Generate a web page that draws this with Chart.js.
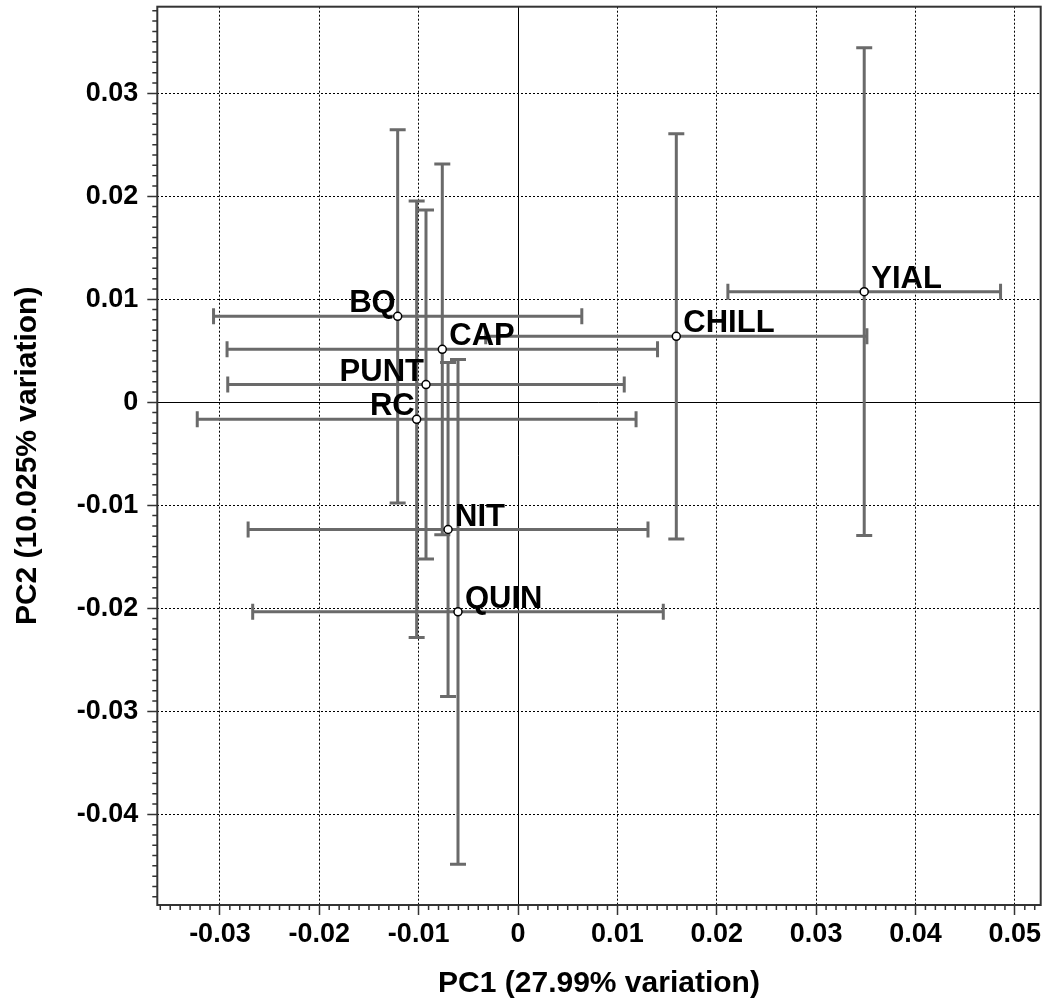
<!DOCTYPE html>
<html>
<head>
<meta charset="utf-8">
<title>PCA site scores</title>
<script src="https://cdn.jsdelivr.net/npm/chart.js@4.4.1/dist/chart.umd.min.js"></script>
<style>
  html, body { margin: 0; padding: 0; background: #fff; }
  #pcaChart { display: block; }
</style>
</head>
<body>
<canvas id="pcaChart" width="1052" height="1003"></canvas>
<script>
// Site means on PC1 / PC2 with their error bar half-widths
const sites = ["BQ", "CAP", "PUNT", "RC", "NIT", "QUIN", "CHILL", "YIAL"];
const pc1 = [-0.01211, -0.00762, -0.00926, -0.0102, -0.00704, -0.00604, 0.01593, 0.03484];
const pc2 = [0.00834, 0.00514, 0.00172, -0.00165, -0.01235, -0.02034, 0.0064, 0.01074];
const pc1Err = [0.01853, 0.02166, 0.01995, 0.02208, 0.02012, 0.02066, 0.01918, 0.01372];
const pc2Err = [0.01811, 0.018, 0.01694, 0.02118, 0.0162, 0.0245, 0.01966, 0.02367];

// which side of the point each site name sits on
const labelSide = ["left", "right", "left", "left", "right", "right", "right", "right"];

// axis ticks
const xTicks = [-0.03, -0.02, -0.01, 0, 0.01, 0.02, 0.03, 0.04, 0.05];
const yTicks = [-0.04, -0.03, -0.02, -0.01, 0, 0.01, 0.02, 0.03];

const FONT = "'Liberation Sans', Arial, Helvetica, sans-serif";
const fmtTick = (v) => (v === 0 ? "0" : v.toFixed(2));

// üìè error bars (under the points)
const errorBars = {
  id: "errorBars",
  beforeDatasetsDraw(chart) {
    const { ctx, scales: { x, y } } = chart;
    const cap = 8;
    ctx.save();
    ctx.strokeStyle = "#6a6a6a";
    ctx.lineWidth = 3;
    sites.forEach((s, i) => {
      const cx = x.getPixelForValue(pc1[i]);
      const cy = y.getPixelForValue(pc2[i]);
      const x0 = x.getPixelForValue(pc1[i] - pc1Err[i]);
      const x1 = x.getPixelForValue(pc1[i] + pc1Err[i]);
      const y0 = y.getPixelForValue(pc2[i] - pc2Err[i]);
      const y1 = y.getPixelForValue(pc2[i] + pc2Err[i]);
      ctx.beginPath();
      ctx.moveTo(x0, cy); ctx.lineTo(x1, cy);
      ctx.moveTo(x0, cy - cap); ctx.lineTo(x0, cy + cap);
      ctx.moveTo(x1, cy - cap); ctx.lineTo(x1, cy + cap);
      ctx.moveTo(cx, y0); ctx.lineTo(cx, y1);
      ctx.moveTo(cx - cap, y0); ctx.lineTo(cx + cap, y0);
      ctx.moveTo(cx - cap, y1); ctx.lineTo(cx + cap, y1);
      ctx.stroke();
    });
    ctx.restore();
  },
};

// üè∑Ô∏è site names next to the points
const siteLabels = {
  id: "siteLabels",
  afterDatasetsDraw(chart) {
    const { ctx } = chart;
    const meta = chart.getDatasetMeta(0);
    ctx.save();
    ctx.font = `bold 31px ${FONT}`;
    ctx.fillStyle = "#000";
    ctx.textBaseline = "alphabetic";
    meta.data.forEach((pt, i) => {
      if (labelSide[i] === "left") {
        ctx.textAlign = "right";
        ctx.fillText(sites[i], pt.x - 2, pt.y - 4);
      } else {
        ctx.textAlign = "left";
        ctx.fillText(sites[i], pt.x + 7, pt.y - 4);
      }
    });
    ctx.restore();
  },
};

// üñºÔ∏è frame and minor tick marks
const frameAndMinorTicks = {
  id: "frameAndMinorTicks",
  afterDraw(chart) {
    const { ctx, chartArea: { left, right, top, bottom }, scales: { x, y } } = chart;
    const step = 0.001;
    ctx.save();
    ctx.strokeStyle = "#333";
    ctx.lineWidth = 1.5;
    ctx.beginPath();
    for (let k = Math.ceil(x.min / step); k <= Math.floor(x.max / step); k++) {
      if (k % 10 === 0) continue;
      const px = x.getPixelForValue(k * step);
      ctx.moveTo(px, bottom);
      ctx.lineTo(px, bottom + 5);
    }
    for (let k = Math.ceil(y.min / step); k <= Math.floor(y.max / step); k++) {
      if (k % 10 === 0) continue;
      const py = y.getPixelForValue(k * step);
      ctx.moveTo(left, py);
      ctx.lineTo(left - 5, py);
    }
    ctx.stroke();

    ctx.lineWidth = 2;
    ctx.strokeRect(left, top, right - left, bottom - top);
    ctx.restore();
  },
};

const gridOpts = {
  color: "#000",
  lineWidth: 1,
  drawTicks: true,
  tickLength: 10,
  tickColor: "#333",
  tickWidth: 1.5,
  tickBorderDash: [],
};

// zero lines solid, the rest dotted
const borderOpts = {
  display: false,
  dash: (c) => (c.tick && c.tick.value === 0 ? [] : [2, 2]),
};

const ctx = document.getElementById("pcaChart").getContext("2d");
new Chart(ctx, {
  type: "scatter",
  data: {
    datasets: [{
      label: "Sites",
      data: sites.map((s, i) => ({ x: pc1[i], y: pc2[i] })),
      pointRadius: 4,
      pointHoverRadius: 4,
      pointBorderWidth: 1.5,
      pointBackgroundColor: "#fff",
      pointBorderColor: "#000",
    }],
  },
  options: {
    responsive: false,
    animation: false,
    events: [],
    layout: { padding: { top: 6.7, right: 11.3, left: 0, bottom: 0 } },
    plugins: {
      legend: { display: false },
      tooltip: { enabled: false },
    },
    scales: {
      x: {
        type: "linear",
        min: -0.0363,
        max: 0.0526,
        afterBuildTicks: (s) => { s.ticks = xTicks.map((v) => ({ value: v })); },
        afterFit: (s) => {
          s.height = 98;
          s.paddingLeft = 0;
          s.paddingRight = 0;
        },
        grid: gridOpts,
        border: borderOpts,
        ticks: {
          autoSkip: false,
          maxRotation: 0,
          padding: 3,
          color: "#000",
          font: { family: FONT, size: 27, weight: "bold" },
          callback: (v) => fmtTick(v),
        },
        title: {
          display: true,
          text: "PC1 (27.99% variation)",
          color: "#000",
          font: { family: FONT, size: 30, weight: "bold" },
          padding: { top: 0, bottom: 1 },
        },
      },
      y: {
        type: "linear",
        min: -0.0488,
        max: 0.0384,
        afterBuildTicks: (s) => { s.ticks = yTicks.map((v) => ({ value: v })); },
        afterFit: (s) => {
          s.width = 157.3;
          s.paddingTop = 0;
          s.paddingBottom = 0;
        },
        grid: gridOpts,
        border: borderOpts,
        ticks: {
          autoSkip: false,
          padding: 9,
          color: "#000",
          font: { family: FONT, size: 27, weight: "bold" },
          callback: (v) => fmtTick(v),
        },
        title: {
          display: true,
          text: "PC2 (10.025% variation)",
          color: "#000",
          font: { family: FONT, size: 30, weight: "bold" },
          padding: { top: 10, bottom: 0 },
        },
      },
    },
  },
  plugins: [errorBars, siteLabels, frameAndMinorTicks],
});
</script>
</body>
</html>
